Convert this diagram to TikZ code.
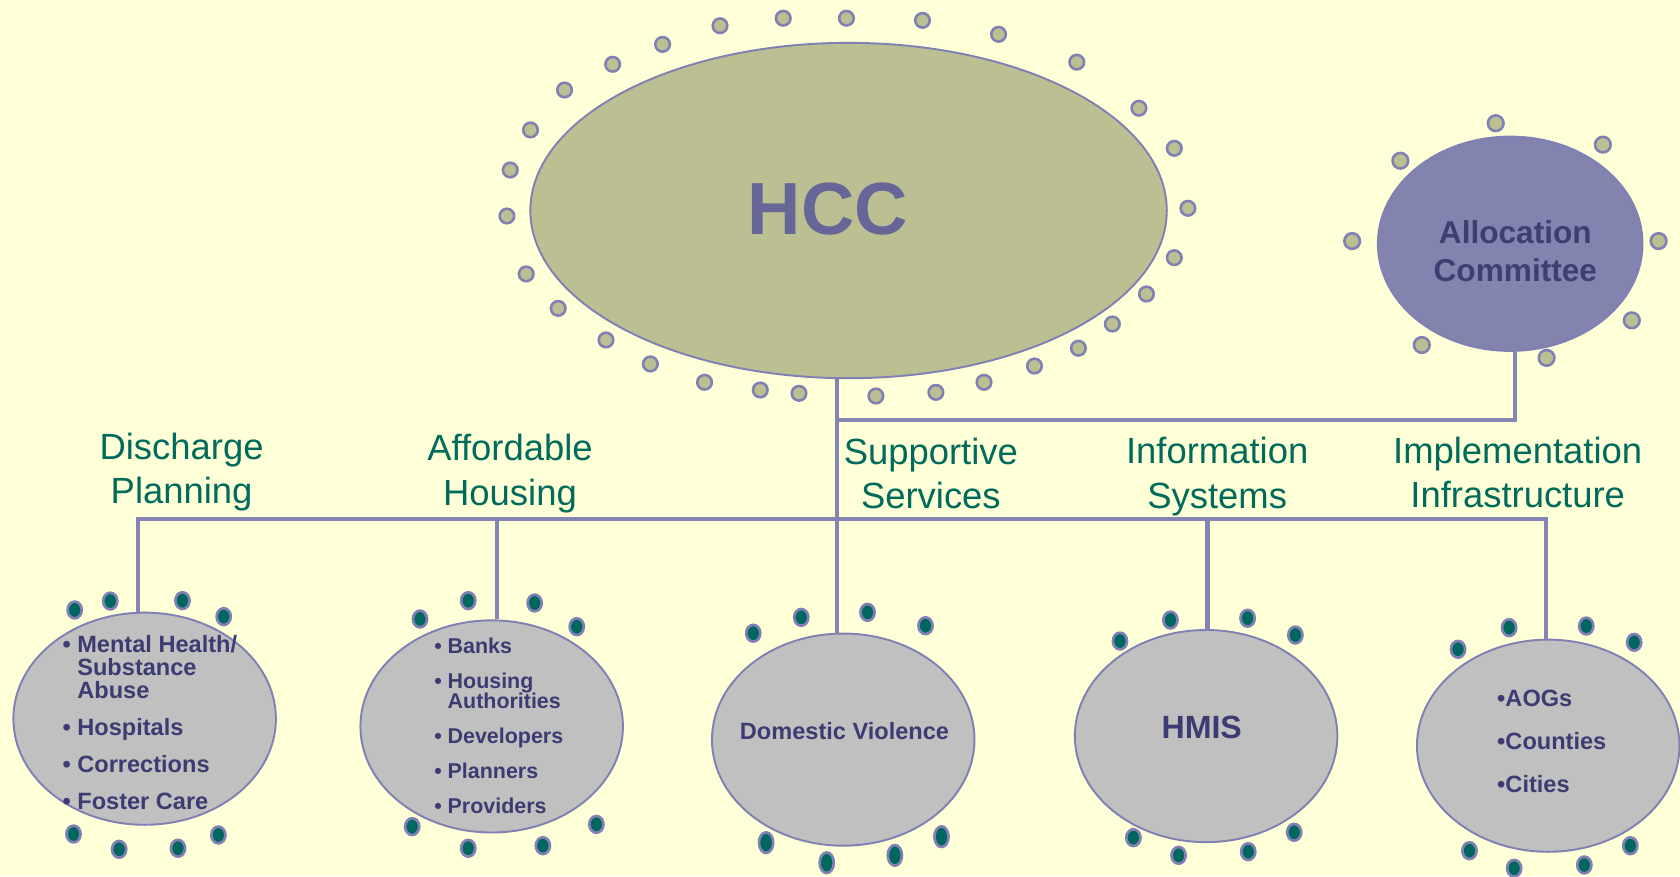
\documentclass[tikz,border=0pt]{standalone}
\usepackage{fontspec}
\setmainfont{Liberation Sans}
\usetikzlibrary{shapes.geometric}
\definecolor{bgC}{HTML}{FFFFD8}
\definecolor{hccF}{HTML}{BBBF91}
\definecolor{hccT}{HTML}{666699}
\definecolor{allocF}{HTML}{8383AF}
\definecolor{allocT}{HTML}{3E3E72}
\definecolor{grayF}{HTML}{C0C0C0}
\definecolor{navyT}{HTML}{3C3C72}
\definecolor{grnT}{HTML}{006B5B}
\definecolor{tealF}{HTML}{006660}
\definecolor{edgeC}{HTML}{8080B4}
\definecolor{lineC}{HTML}{8585B5}
\newcommand{\myblt}{•\ }
\newcommand{\myind}{\hphantom{•\ }}
\begin{document}
\begin{tikzpicture}[x=0.5pt,y=-0.5pt,
  conn/.style={draw=lineC, line width=1.9pt, line join=miter},
  bigell/.style={ellipse, draw=edgeC, line width=0.9pt, inner sep=0pt},
  smallell/.style={bigell, fill=grayF, minimum width=122.5pt, minimum height=99pt},
  hdot/.style={draw=edgeC, fill=hccF, line width=1.2pt},
  tdot/.style={draw=edgeC, fill=tealF, line width=1.25pt},
  grn/.style={text=grnT, font=\fontsize{17}{20.75}\selectfont, align=center, inner sep=0pt},
  lst/.style={text=navyT, align=left, inner sep=0pt, anchor=north west},
  ctext/.style={text=navyT, inner sep=0pt}
]
\useasboundingbox (0,0) rectangle (1568,818);
\fill[bgC] (0,0) rectangle (1568,818);

% main ellipses
\node[bigell, fill=hccF, minimum width=297pt, minimum height=156.5pt] (HCC) at (792,196.5) {};
\node[bigell, fill=allocF, minimum width=123.5pt, minimum height=100pt] (Alloc) at (1409.5,227.5) {};
\node[smallell] (E1) at (135,670.8) {};
\node[smallell] (E2) at (458.9,678) {};
\node[smallell] (E3) at (787,690.3) {};
\node[smallell] (E4) at (1125.7,687) {};
\node[smallell] (E5) at (1445,696) {};

% texts
\node[text=hccT, inner sep=0pt, font=\bfseries\fontsize{34.5}{40}\selectfont] (HCCt) at (772.6,194.8) {HCC};
\node[text=allocT, inner sep=0pt, align=center, font=\bfseries\fontsize{14.75}{17.8}\selectfont] (Alloct) at (1414.3,234.8) {Allocation\\Committee};

\node[grn] (lDP) at (169.5,440.7) {Discharge\\Planning};
\node[grn] (lAH) at (476,442.2) {Affordable\\Housing};
\node[grn] (lSS) at (868.8,441.8) {Supportive\\Services};
\node[grn] (lIS) at (1136,444.6) {Information\\Systems};
\node[grn] (lII) at (1416.5,441) {Implementation\\Infrastructure};

\node[lst, font=\bfseries\fontsize{11}{10.75}\selectfont] (E1t) at (58,593)
  {\myblt Mental Health/\\\myind Substance\\\myind Abuse\\[6.5pt]\myblt Hospitals\\[6.5pt]\myblt Corrections\\[6.5pt]\myblt Foster Care};
\node[lst, font=\bfseries\fontsize{10}{9.65}\selectfont] (E2t) at (404.9,594.8)
  {\myblt Banks\\[6.65pt]\myblt Housing\\\myind Authorities\\[6.65pt]\myblt Developers\\[6.65pt]\myblt Planners\\[6.65pt]\myblt Providers};
\node[ctext, font=\bfseries\fontsize{11}{13}\selectfont] (E3t) at (788.2,682.3) {Domestic Violence};
\node[ctext, font=\bfseries\fontsize{15}{17}\selectfont] (E4t) at (1121.6,679.2) {HMIS};
\node[lst, font=\bfseries\fontsize{11}{20}\selectfont] (E5t) at (1397,643.6) {•AOGs\\•Counties\\•Cities};

% connectors
\coordinate (jA) at (781,392);
\coordinate (aA) at (1414,392);
\coordinate (busL) at (129,484);
\coordinate (busR) at (1443,484);
\coordinate (b2) at (464,484);
\coordinate (b4) at (1127,484);
\draw[conn] (HCC.south -| jA) -- (jA) -- (aA) -- (Alloc.south -| aA);
\draw[conn] (jA) -- (E3.north -| jA);
\draw[conn] (E1.north -| busL) -- (busL) -- (busR) -- (E5.north -| busR);
\draw[conn] (b2) -- (E2.north -| b2);
\draw[conn] (b4) -- (E4.north -| b4);

% decorative dots around HCC
\foreach \x/\y in {672/24, 731/17, 790/17, 861/19, 932/32, 1005/58, 1063/101, 1096/138.4, 1108.7/194.4, 1096/240.5, 1070/274.4, 1038.2/302.4, 1006.5/325, 965.5/341.6, 918.4/356.8, 873.5/366.2, 817.5/369.6, 745.7/367.1, 709.6/364, 657.6/356.8, 607/339.7, 565.6/317.3, 521/287.8, 491.1/255.7, 473.1/201.6, 476.2/158.7, 495.1/121.3, 526.9/84, 571.8/60, 618.4/41.4}
  \draw[hdot] (\x,\y) circle [radius=6.8];
% dots around Allocation Committee
\foreach \x/\y in {1396/115, 1496/135, 1307/150, 1262/225, 1548/225, 1523/299, 1327/322, 1443.5/334}
  \draw[hdot] (\x,\y) circle [radius=7.3];
% teal dots
\foreach \x/\y in {69.7/569.3, 102.9/561, 170.3/560.6, 208.8/575.5, 68.6/778.4, 111.2/792.7, 166.1/791.7, 203.8/779.3,
  392/577.7, 437/560.6, 499/562.8, 538.3/584.9, 384.7/771.5, 437/791.7, 506.7/789.3, 556.6/769.4,
  703/591, 747.8/576.2, 809.7/571.5, 863.8/584,
  1045.3/598.3, 1092.4/578.7, 1164.4/577, 1209/592.7, 1057.8/781.8, 1100/798.3, 1165/794.9, 1207.9/776.8,
  1360.8/606, 1408.5/585.8, 1480.5/584.3, 1525.2/599.5, 1371.5/794, 1413.2/810.4, 1478.7/807.3, 1521.6/789.3}
  \draw[tdot] (\x,\y) ellipse [x radius=6.6, y radius=7.8];
\foreach \x/\y in {715/786.5, 771.6/805.2, 835.2/798.3, 878.7/780.9}
  \draw[tdot] (\x,\y) ellipse [x radius=6.6, y radius=9.6];
\end{tikzpicture}
\end{document}
